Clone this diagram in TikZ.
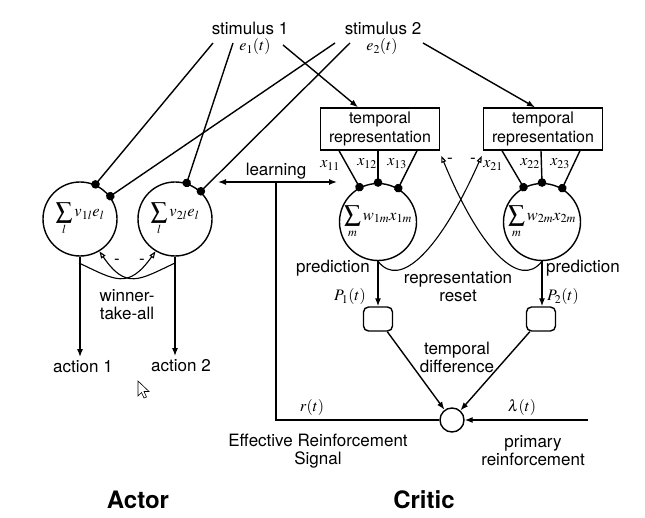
\documentclass[tikz,border=0pt]{standalone}
\usepackage{mathptmx}
\usepackage[no-math]{fontspec}
\setmainfont{TeX Gyre Heros}
\usetikzlibrary{arrows.meta,calc}
\tikzstyle{neuron} = [draw, circle, minimum size=74pt, inner sep=0pt,
font=\fontsize{16.5}{18}\selectfont]
\tikzstyle{trep} = [draw, rectangle, minimum width=119pt, minimum height=42pt,
inner sep=0pt, align=center, font=\fontsize{16}{19}\selectfont]
\tikzstyle{pbox} = [draw, rounded corners=5pt, minimum width=29pt, minimum height=24pt]
\tikzstyle{lbl} = [inner sep=0pt, align=center, font=\fontsize{17}{18}\selectfont]
\tikzstyle{mlbl} = [inner sep=0pt, font=\fontsize{16}{18}\selectfont]
\tikzstyle{head} = [inner sep=0pt, font=\fontsize{24}{28}\selectfont\bfseries]
\tikzstyle{arr} = [-{Latex[length=8pt,width=6pt]}]
\tikzstyle{syn} = [-{Circle[length=8.5pt]}, shorten >=-4pt]
\tikzstyle{inh} = [-{Triangle[open,length=7pt,width=5pt]}, line width=1.1pt]

\begin{document}
\begin{tikzpicture}[x=1pt, y=-1pt, line width=1.4pt]
                    \useasboundingbox (0,0) rectangle (645,518);
                    % inputs
                    \node[lbl] (s1) at (250,28) {stimulus 1};
                    \node[mlbl] (e1) at (255,47) {$e_1(t)$};
                    \node[lbl] (s2) at (383,28) {stimulus 2};
                    \node[mlbl] (e2) at (382,47) {$e_2(t)$};
                    \coordinate (s1a) at (213,43);
                    \coordinate (s1b) at (233,43);
                    \coordinate (s1c) at (283,45);
                    \coordinate (s2a) at (335,43);
                    \coordinate (s2b) at (350,43);
                    \coordinate (s2c) at (423,43);
                    % actor
                    \node[neuron] (a1) at (80,219) {$\displaystyle\sum_l v_{1l}e_l$};
                    \node[neuron] (a2) at (175,219) {$\displaystyle\sum_l v_{2l}e_l$};
                    \node[lbl, inner sep=3pt] (act1) at (83,367) {action 1};
                    \node[lbl, inner sep=3pt] (act2) at (181,366) {action 2};
                    \node[lbl] (wta) at (127,305) {winner-\\take-all};
                    \node[lbl] (m1) at (117,262) {-};
                    \node[lbl] (m2) at (142,262) {-};
                    \coordinate (w1) at (79,263);
                    \coordinate (w2) at (175,263);
                    % critic
                    \node[trep] (b1) at (380,129) {temporal\\representation};
                    \node[trep] (b2) at (543,129) {temporal\\representation};
                    \node[neuron, minimum size=77pt] (c1) at (378,222) {$\displaystyle\sum_m w_{1m}x_{1m}$};
                    \node[neuron, minimum size=77pt] (c2) at (542,222) {$\displaystyle\sum_m w_{2m}x_{2m}$};
                    \node[pbox] (p1) at (378,319) {};
                    \node[pbox] (p2) at (541,319) {};
                    \node[draw, circle, minimum size=24pt, inner sep=0pt] (d) at (452,420) {};
                    \coordinate (lam) at (588,420);
                    \coordinate (lrnL) at (218,182);
                    \coordinate (lrnR) at (337,182);
                    \coordinate (lrn) at (276,182);
                    \node[lbl] (lt) at (276,171) {learning};
                    \node[lbl] (m3) at (450,161) {-};
                    \node[lbl] (m4) at (473,161) {-};
                    \node[lbl] (pr1) at (333,268) {prediction};
                    \node[mlbl] (P1) at (350,297) {$P_1(t)$};
                    \node[lbl] (pr2) at (583,268) {prediction};
                    \node[mlbl] (P2) at (563,297) {$P_2(t)$};
                    \node[lbl] (rr) at (458,287) {representation\\reset};
                    \node[lbl] (td) at (457,357) {temporal\\difference};
                    \node[mlbl] (rt) at (312,407) {$r(t)$};
                    \node[mlbl] (lt2) at (522,407) {$\lambda(t)$};
                    \node[lbl] (ers) at (318,451) {Effective Reinforcement\\Signal};
                    \node[lbl] (prf) at (533,451) {primary\\reinforcement};
                    \node[head] (actor) at (138,500) {Actor};
                    \node[head] (critic) at (424,500) {Critic};
                    \foreach \i/\b in {1/b1, 2/b2} {
                        \node[mlbl] (x\i1) at ($(\b.south)+(-50,15)$) {$x_{\i1}$};
                        \node[mlbl] (x\i2) at ($(\b.south)+(-13,13)$) {$x_{\i2}$};
                        \node[mlbl] (x\i3) at ($(\b.south)+(17,13)$) {$x_{\i3}$};
                    }
                    % connections
                    \draw[syn] (s1a)--(a1.66);
                    \draw[syn] (s1b)--(a2.72);
                    \draw[syn] (s2a)--(a1.37);
                    \draw[syn] (s2b)--(a2.47);
                    \draw[arr] (s1c)--($(b1.north)+(-22,0)$);
                    \draw[arr] (s2c)--($(b2.north)+(-8,0)$);
                    \foreach \b/\c in {b1/c1, b2/c2} {
                        \draw[syn] ($(\b.south)+(-41,0)$)--(\c.118);
                        \draw[syn] ($(\b.south)+(-2,0)$)--(\c.90);
                        \draw[syn] ($(\b.south)+(37,0)$)--(\c.59);
                    }
                    \draw[inh] (c1.south) .. controls (400,290) and (440,250) .. ($(b2.south west)+(-1,5)$);
                    \draw[inh] (c2.south) .. controls (520,290) and (480,250) .. ($(b1.south east)+(1,5)$);
                    \draw[arr] (a1.south)--(a1.south |- act1.north);
                    \draw[arr] (a2.south)--(a2.south |- act2.north);
                    \draw[inh] (w1) .. controls (115,280) and (128,290) .. (a2.239);
                    \draw[inh] (w2) .. controls (139,280) and (126,290) .. (a1.301);
                    \draw[arr] (c1.south)--(p1.north);
                    \draw[arr] (c2.south)--(c2.south |- p2.north);
                    \draw[arr] (p1)--(d);
                    \draw[arr] (p2)--(d);
                    \draw[arr] (lam)--(d);
                    \draw (d)--(d -| lrn)--(lrn);
                    \draw[{Latex[length=8pt,width=6pt]}-{Latex[length=8pt,width=6pt]}] (lrnL)--(lrnR);
                    % pointer
                    \draw[line width=0.6pt, fill=white] (138,381)--(138,396)--(141.5,392.5)--(144,398)--(146.5,397)--(144,391.5)--(149,391.5)--cycle;
                \end{tikzpicture}
\end{document}
